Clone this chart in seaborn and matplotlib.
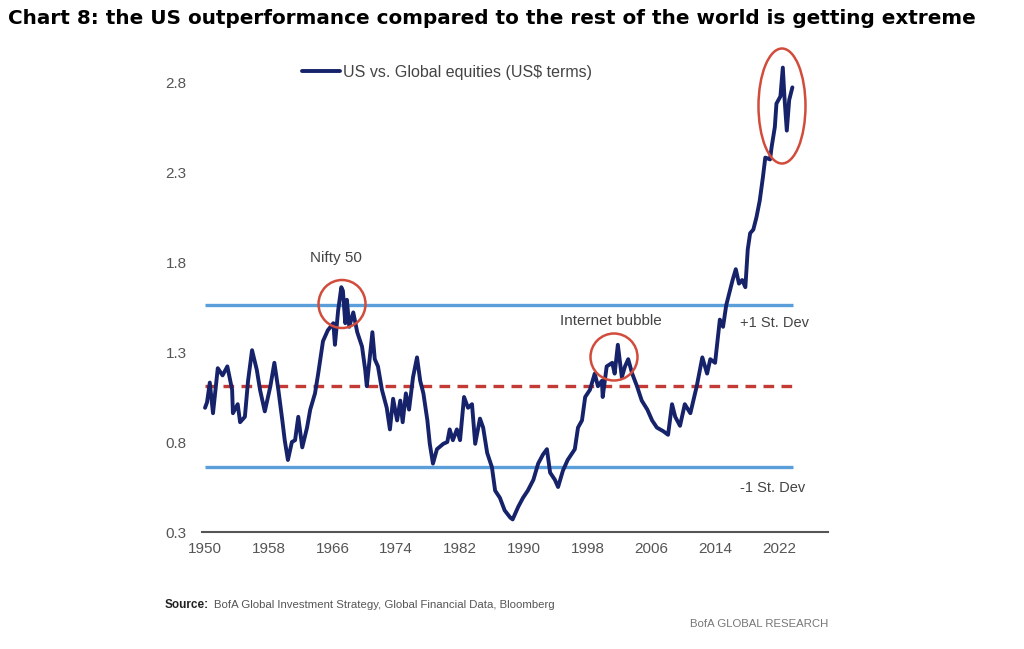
import matplotlib
matplotlib.use("Agg")
import matplotlib.pyplot as plt
from matplotlib.patches import Ellipse
import seaborn as sns
import pandas as pd

# ---- data ----
years = [1950.0, 1950.25, 1950.6, 1951.0, 1951.6, 1952.2, 1952.8, 1953.4, 1953.5, 1954.1,
         1954.4, 1955.0, 1955.4, 1955.9, 1956.5, 1956.9, 1957.5, 1958.2, 1958.7, 1959.2,
         1959.7, 1960.0, 1960.4, 1960.9, 1961.3, 1961.7, 1962.2, 1962.8, 1963.2, 1963.8,
         1964.2, 1964.8, 1965.4, 1966.1, 1966.3, 1966.7, 1967.1, 1967.3, 1967.6, 1967.8,
         1968.1, 1968.6, 1969.1, 1969.7, 1970.1, 1970.3, 1971.0, 1971.3, 1971.7, 1972.2,
         1972.8, 1973.2, 1973.6, 1974.1, 1974.5, 1974.8, 1975.2, 1975.6, 1976.1, 1976.6,
         1977.0, 1977.4, 1977.9, 1978.2, 1978.6, 1979.1, 1979.9, 1980.4, 1980.7, 1981.1,
         1981.6, 1982.0, 1982.5, 1983.0, 1983.5, 1983.9, 1984.5, 1984.9, 1985.4, 1986.0,
         1986.4, 1987.0, 1987.6, 1988.3, 1988.6, 1989.3, 1989.9, 1990.5, 1991.2, 1991.8,
         1992.4, 1992.9, 1993.3, 1993.9, 1994.3, 1994.9, 1995.5, 1996.4, 1996.8, 1997.3,
         1997.7, 1998.3, 1998.9, 1999.3, 1999.8, 1999.9, 2000.4, 2001.1, 2001.4, 2001.8,
         2002.3, 2002.7, 2003.1, 2003.6, 2004.2, 2004.8, 2005.5, 2006.1, 2006.7, 2007.5,
         2008.1, 2008.6, 2009.0, 2009.6, 2010.2, 2010.9, 2011.7, 2012.4, 2013.0, 2013.4,
         2014.0, 2014.6, 2015.0, 2015.4, 2015.8, 2016.2, 2016.6, 2017.0, 2017.4, 2017.8,
         2018.1, 2018.4, 2018.8, 2019.2, 2019.6, 2020.0, 2020.3, 2020.9, 2021.1, 2021.5,
         2021.7, 2022.2, 2022.5, 2022.7, 2023.0, 2023.3, 2023.7]
ratio = [0.99, 1.02, 1.13, 0.96, 1.21, 1.17, 1.22, 1.09, 0.96, 1.01,
         0.91, 0.94, 1.14, 1.31, 1.20, 1.09, 0.97, 1.11, 1.24, 1.09,
         0.92, 0.81, 0.70, 0.80, 0.81, 0.94, 0.77, 0.88, 0.98, 1.07,
         1.18, 1.36, 1.42, 1.46, 1.34, 1.53, 1.66, 1.64, 1.46, 1.59,
         1.44, 1.52, 1.41, 1.33, 1.20, 1.11, 1.41, 1.26, 1.22, 1.09,
         0.99, 0.87, 1.04, 0.92, 1.03, 0.91, 1.07, 0.98, 1.16, 1.27,
         1.14, 1.07, 0.92, 0.79, 0.68, 0.76, 0.79, 0.80, 0.87, 0.81,
         0.87, 0.81, 1.05, 0.99, 1.01, 0.79, 0.93, 0.88, 0.74, 0.66,
         0.53, 0.49, 0.42, 0.38, 0.37, 0.44, 0.49, 0.53, 0.59, 0.68,
         0.73, 0.76, 0.63, 0.59, 0.55, 0.64, 0.70, 0.76, 0.88, 0.92,
         1.05, 1.09, 1.18, 1.11, 1.14, 1.05, 1.22, 1.24, 1.18, 1.34,
         1.16, 1.22, 1.26, 1.18, 1.11, 1.03, 0.98, 0.92, 0.88, 0.86,
         0.84, 1.01, 0.94, 0.89, 1.01, 0.96, 1.11, 1.27, 1.18, 1.26,
         1.24, 1.48, 1.44, 1.56, 1.63, 1.70, 1.76, 1.68, 1.70, 1.66,
         1.87, 1.96, 1.98, 2.05, 2.14, 2.27, 2.38, 2.37, 2.44, 2.55,
         2.68, 2.72, 2.88, 2.72, 2.53, 2.70, 2.77]

mean_level = 1.11
plus_sd = 1.56
minus_sd = 0.66
y_ticks = [0.3, 0.8, 1.3, 1.8, 2.3, 2.8]
x_ticks = [1950, 1958, 1966, 1974, 1982, 1990, 1998, 2006, 2014, 2022]
series_label = "US vs. Global equities (US$ terms)"
title = "Chart 8: the US outperformance compared to the rest of the world is getting extreme"
source_txt = "BofA Global Investment Strategy, Global Financial Data, Bloomberg"

df = pd.DataFrame({"year": years, "ratio": ratio})

sns.set_style("white")
plt.rcParams["font.family"] = ["Liberation Sans", "DejaVu Sans"]

NAVY = "#16226a"
LBLUE = "#5b9fda"
RED = "#c23b35"
CIRC = "#d24c3c"
GREY = "#555555"

fig = plt.figure(figsize=(10.24, 6.49), dpi=100)
ax = fig.add_axes([202 / 1024, 1 - 532 / 649, 626 / 1024, (532 - 46) / 649])

x0, x1 = 1949.62, 2028.17
ax.set_xlim(x0, x1)
ax.set_ylim(0.3, 3.0)

# reference lines
ax.hlines([plus_sd, minus_sd], 1950.0, 2023.8, colors=LBLUE, lw=2.4, zorder=1)
ax.hlines(mean_level, 1950.0, 2023.8, colors=RED, lw=2.4, linestyles=(0, (3.2, 2.2)), zorder=1)

sns.lineplot(data=df, x="year", y="ratio", ax=ax, color=NAVY, lw=2.8,
             label=series_label, sort=False, zorder=3)

# circles (pixel sizes converted to data units)
pxx = 7.97   # px per year
pxy = 180.0  # px per unit
def px_ellipse(cx, cy, wpx, hpx):
    e = Ellipse(((cx - 205) / pxx + 1950, 0.3 + (532 - cy) / pxy),
                wpx / pxx, hpx / pxy, fill=False, edgecolor=CIRC, lw=1.8, zorder=4)
    ax.add_patch(e)
px_ellipse(342, 304, 47, 48)
px_ellipse(614, 357, 47, 47)
px_ellipse(782, 106, 47, 115)

ax.text((336 - 205) / pxx + 1950, 0.3 + (532 - 258) / pxy, "Nifty 50",
        ha="center", va="center", fontsize=11, color="#444444")
ax.text((611 - 205) / pxx + 1950, 0.3 + (532 - 321) / pxy, "Internet bubble",
        ha="center", va="center", fontsize=11, color="#444444")
ax.text((740 - 205) / pxx + 1950, 0.3 + (532 - 323) / pxy, "+1 St. Dev",
        ha="left", va="center", fontsize=10.5, color="#444444")
ax.text((740 - 205) / pxx + 1950, 0.3 + (532 - 488) / pxy, "-1 St. Dev",
        ha="left", va="center", fontsize=10.5, color="#444444")

ax.set_xticks(x_ticks)
ax.set_xticklabels([str(v) for v in x_ticks])
ax.set_yticks(y_ticks)
ax.set_yticklabels([f"{v:.1f}" for v in y_ticks])
ax.tick_params(axis="both", length=0, labelsize=11, colors=GREY)
ax.tick_params(axis="y", pad=11)
ax.tick_params(axis="x", pad=7)
ax.set_xlabel("")
ax.set_ylabel("")
for s in ["top", "right", "left"]:
    ax.spines[s].set_visible(False)
ax.spines["bottom"].set_color("#555555")
ax.spines["bottom"].set_linewidth(1.5)

leg = ax.legend(loc="center left", bbox_to_anchor=(294 / 1024, 1 - 72 / 649),
                bbox_transform=fig.transFigure, frameon=False, borderpad=0,
                handlelength=2.4, handletextpad=0.15, fontsize=11.5)
for t in leg.get_texts():
    t.set_color("#444444")

fig.text(8 / 1024, 1 - 19 / 649, title, ha="left", va="center", fontsize=14.4,
         fontweight="bold", family=["DejaVu Sans"], color="black")

src_label = fig.text(165 / 1024, 1 - 605 / 649, "Source:", ha="left", va="center",
                     fontsize=8.5, fontweight="bold", color="#222222")
fig.canvas.draw()
bb = src_label.get_window_extent(renderer=fig.canvas.get_renderer())
fig.text((bb.x1 + 5) / fig.bbox.width, 1 - 605 / 649, source_txt, ha="left", va="center",
         fontsize=8.2, color="#555555")
fig.text(828 / 1024, 1 - 624 / 649, "BofA GLOBAL RESEARCH", ha="right", va="center",
         fontsize=8.2, color="#777777")

fig.savefig("out.png", dpi=100)
